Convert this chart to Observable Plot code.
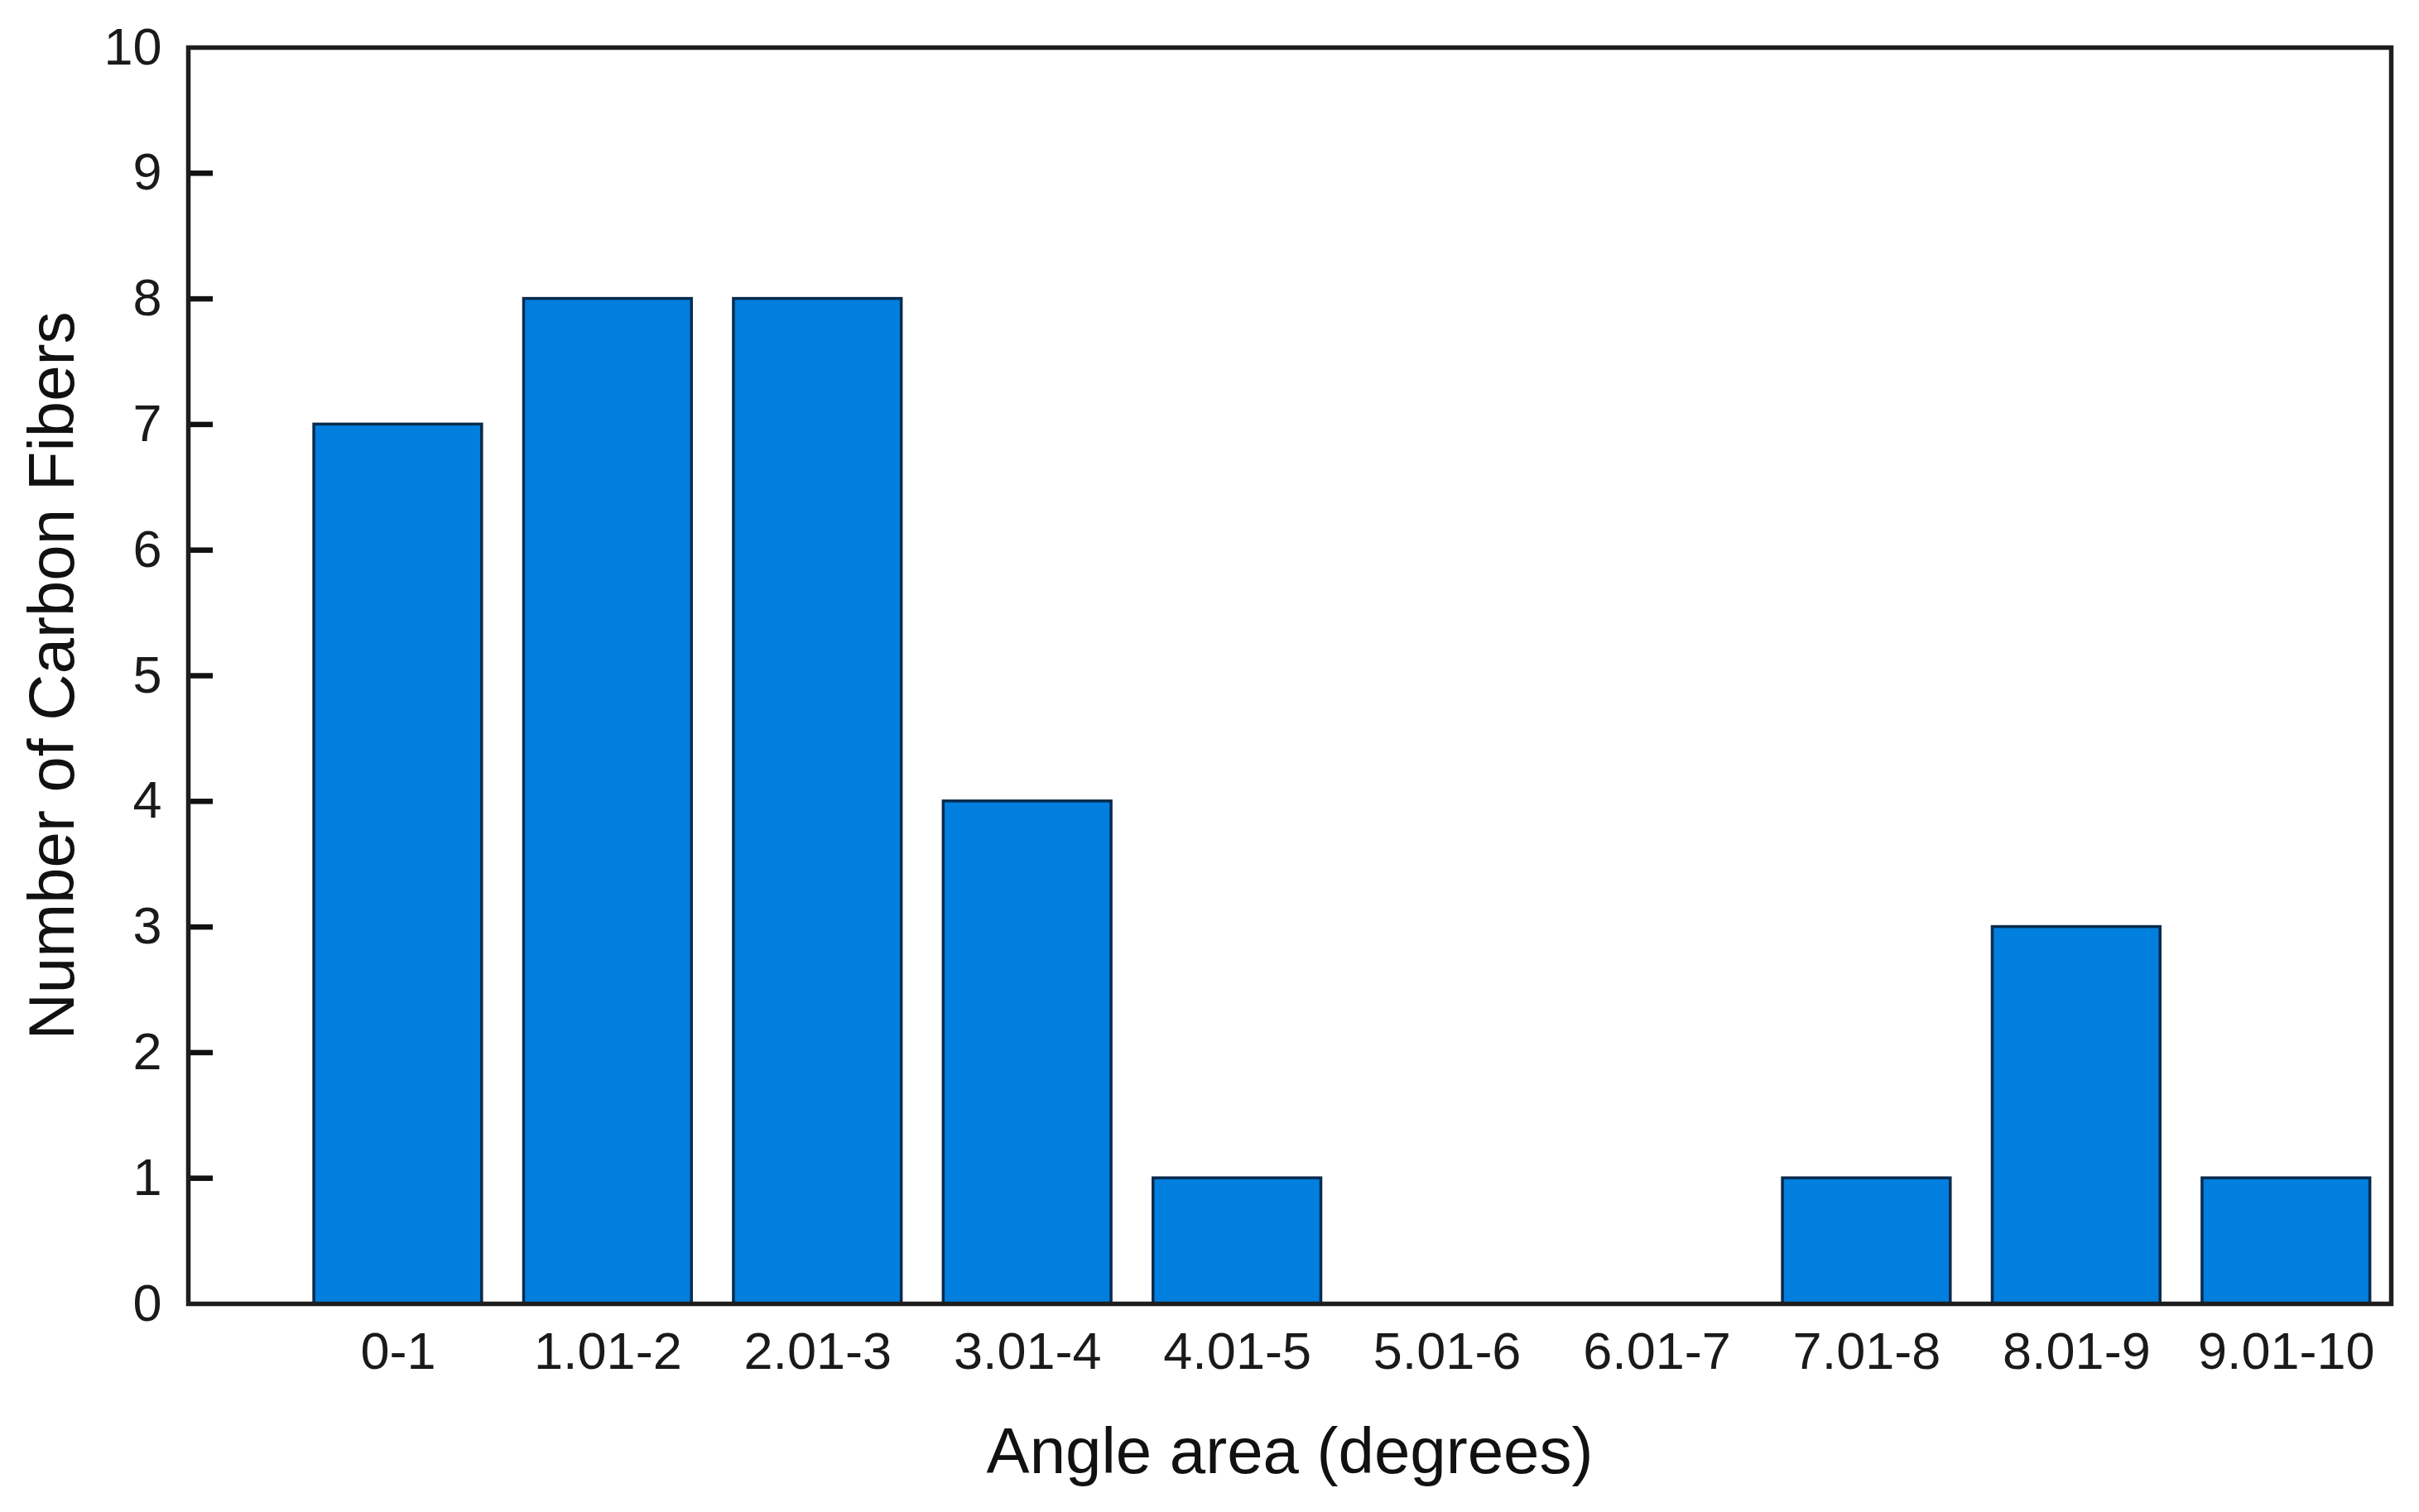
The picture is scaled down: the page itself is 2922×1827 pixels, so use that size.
<!DOCTYPE html>
<html>
<head>
<meta charset="utf-8">
<script src="https://cdn.jsdelivr.net/npm/d3@7"></script>
<script src="https://cdn.jsdelivr.net/npm/@observablehq/plot@0.6"></script>
<style>
  html, body { margin: 0; padding: 0; background: #fff; }
</style>
</head>
<body>
<div id="chart"></div>
<script>
const categories = ["0-1", "1.01-2", "2.01-3", "3.01-4", "4.01-5", "5.01-6", "6.01-7", "7.01-8", "8.01-9", "9.01-10"];
const counts = [7, 8, 8, 4, 1, 0, 0, 1, 3, 1];
const yTicks = [0, 1, 2, 3, 4, 5, 6, 7, 8, 9, 10];
const xTitle = "Angle area (degrees)";
const yTitle = "Number of Carbon Fibers";

const data = categories.map((c, i) => ({category: c, pos: i + 1, count: counts[i]}));
const positions = data.map(d => d.pos);
const halfWidth = 0.4;

const W = 2922, H = 1827;
const mL = 227, mR = 34, mT = 57, mB = 252;
const xDomain = [0, 10.5];
const tickLen = 30;
// inward tick length expressed in x-scale units
const tickUnits = tickLen * (xDomain[1] - xDomain[0]) / (W - mL - mR);
const innerTicks = yTicks.slice(1, -1).map(v => ({value: v}));

const chart = Plot.plot({
  width: W,
  height: H,
  marginLeft: mL,
  marginRight: mR,
  marginTop: mT,
  marginBottom: mB,
  style: {fontFamily: "'Liberation Sans', Arial, Helvetica, sans-serif", fontSize: "63px", color: "#1a1a1a", background: "#fff"},
  x: {type: "linear", domain: xDomain},
  y: {domain: [0, 10]},
  marks: [
    Plot.rectY(data.filter(d => d.count > 0), {
      x1: d => d.pos - halfWidth,
      x2: d => d.pos + halfWidth,
      y: "count",
      fill: "#007fdf",
      stroke: "#0a2b4d",
      strokeWidth: 3.5
    }),
    Plot.axisX({ticks: positions, tickFormat: p => categories[p - 1], tickSize: 0, tickPadding: 34, fontSize: 63, label: null}),
    Plot.axisY({ticks: yTicks, tickSize: 0, tickPadding: 32, fontSize: 63, label: null}),
    Plot.ruleY(innerTicks, {y: "value", x1: () => xDomain[0], x2: () => xDomain[0] + tickUnits, stroke: "#111", strokeWidth: 6.5}),
    Plot.frame({stroke: "#1e1e1e", strokeWidth: 5.5}),
    Plot.text([xTitle], {frameAnchor: "bottom", dy: 180, text: d => d, fontSize: 78, lineAnchor: "middle", textAnchor: "middle", fill: "#111"}),
    Plot.text([yTitle], {frameAnchor: "left", dx: -163, rotate: -90, text: d => d, fontSize: 78, lineAnchor: "middle", textAnchor: "middle", fill: "#111"})
  ]
});
document.getElementById("chart").appendChild(chart);
</script>
</body>
</html>
